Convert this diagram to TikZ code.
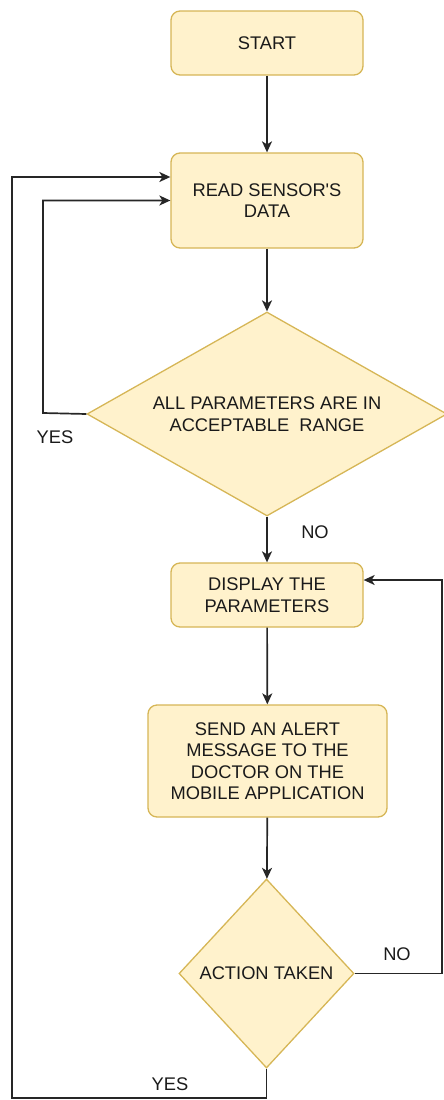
\documentclass[tikz,border=0pt]{standalone}
\usepackage{fontspec}
\setmainfont{Liberation Sans}
\usetikzlibrary{shapes.geometric,arrows.meta}
\definecolor{lyellow}{HTML}{FFF2CC}
\definecolor{dgold}{HTML}{D6B656}
\definecolor{linec}{HTML}{262626}
\definecolor{textc}{HTML}{1A1A1A}
\begin{document}
\begin{tikzpicture}[x=1pt,y=-1pt,
  txt/.style={font=\fontsize{18.3pt}{21.5pt}\selectfont, text=textc},
  box/.style={rectangle, rounded corners=9pt, draw=dgold, fill=lyellow, line width=1.3pt, align=center, inner sep=0pt, txt},
  decision/.style={diamond, draw=dgold, fill=lyellow, line width=1.3pt, align=center, inner sep=0pt, txt},
  arr/.style={-{Stealth[length=11pt,width=10pt,inset=3pt]}, line width=1.7pt, draw=linec},
  lbl/.style={txt, inner sep=0pt}]
\useasboundingbox (0,0) rectangle (444,1100);
\node[box, minimum width=192pt, minimum height=64pt] (start) at (267,43) {START};
\node[box, minimum width=192pt, minimum height=95pt] (read) at (267,200.5) {READ SENSOR\textquotesingle S\\DATA};
\node[decision, aspect=1.765, minimum width=360pt, minimum height=204pt] (dec1) at (267,414) {ALL PARAMETERS ARE IN\\ACCEPTABLE\ \ RANGE};
\node[box, minimum width=192pt, minimum height=64pt] (disp) at (267,595) {DISPLAY THE\\PARAMETERS};
\node[box, minimum width=239pt, minimum height=112pt] (send) at (267.5,761) {SEND AN ALERT\\MESSAGE TO THE\\DOCTOR ON THE\\MOBILE APPLICATION};
\node[decision, aspect=0.926, minimum width=175pt, minimum height=189pt] (dec2) at (266.5,973.5) {ACTION TAKEN};
\coordinate (c1) at (43,413);
\coordinate (c2) at (12,1098);
\coordinate (c3) at (442,973.5);
\draw[arr] (start) -- (read);
\draw[arr] (read) -- (dec1);
\draw[arr] (dec1) -- (disp);
\draw[arr] (disp) -- (send);
\draw[arr] (send) -- (dec2);
\draw[arr] (dec1.west) -- (c1) |- (read.west);
\draw[arr] (dec2.south) |- (c2) |- ([yshift=23.5pt]read.west);
\draw[arr] (dec2.east) -- (c3) |- ([yshift=15pt]disp.east);
\node[lbl] (yes1) at (55,437) {YES};
\node[lbl] (no1) at (315,532) {NO};
\node[lbl] (no2) at (397,954) {NO};
\node[lbl] (yes2) at (170,1084) {YES};
\end{tikzpicture}
\end{document}
